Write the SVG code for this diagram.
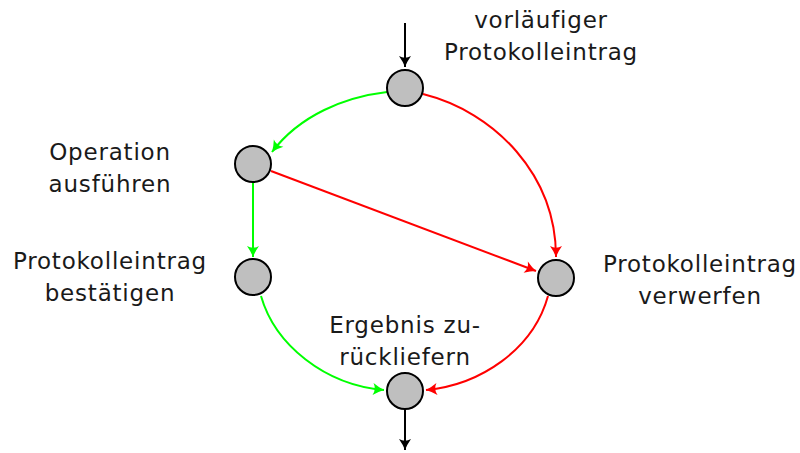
<svg xmlns="http://www.w3.org/2000/svg" width="800" height="453" viewBox="0 0 800 453">
  <defs>
    <!-- curved stealth-style arrow tips, one per stroke colour -->
    <marker id="tipK" viewBox="-12 -7 14 14" refX="0" refY="0" markerWidth="14" markerHeight="14" markerUnits="userSpaceOnUse" orient="auto">
      <path d="M-11,-6 Q-5,-1.8 0,0 Q-5,1.8 -11,6 Q-7.5,0 -11,-6 Z" fill="#000"/>
    </marker>
    <marker id="tipG" viewBox="-12 -7 14 14" refX="0" refY="0" markerWidth="14" markerHeight="14" markerUnits="userSpaceOnUse" orient="auto">
      <path d="M-11,-6 Q-5,-1.8 0,0 Q-5,1.8 -11,6 Q-7.5,0 -11,-6 Z" fill="#00ff00"/>
    </marker>
    <marker id="tipR" viewBox="-12 -7 14 14" refX="0" refY="0" markerWidth="14" markerHeight="14" markerUnits="userSpaceOnUse" orient="auto">
      <path d="M-11,-6 Q-5,-1.8 0,0 Q-5,1.8 -11,6 Q-7.5,0 -11,-6 Z" fill="#ff0000"/>
    </marker>
  </defs>
  <style>
    .state { fill: #bfbfbf; stroke: #000; stroke-width: 2; }
    .lbl { font-family: "DejaVu Sans", sans-serif; font-size: 23px; letter-spacing: 0.8px; fill: #1a1a1a; text-anchor: middle; }
    .edge { fill: none; stroke-width: 2; }
    .k { stroke: #000; marker-end: url(#tipK); }
    .g { stroke: #00ff00; marker-end: url(#tipG); }
    .r { stroke: #ff0000; marker-end: url(#tipR); }
  </style>

  <g id="connectors">
    <path class="edge k" d="M405,23 L405,67"/>
    <path class="edge g" d="M387,92 C345,97 300,115 272,152"/>
    <path class="edge r" d="M423,94 C495,112 556,175 556,257"/>
    <path class="edge r" d="M271,171 L536,271"/>
    <path class="edge g" d="M253,183 L253,257"/>
    <path class="edge g" d="M261,296 C275,345 325,385 384,390"/>
    <path class="edge r" d="M548,296 C533,350 480,385 426,390"/>
    <path class="edge k" d="M405,410 L405,450"/>
  </g>

  <g id="n-eintrag">
    <circle class="state" cx="405" cy="88" r="18"/>
    <text class="lbl" x="541" y="28">vorläufiger</text>
    <text class="lbl" x="541" y="60">Protokolleintrag</text>
  </g>
  <g id="n-operation">
    <circle class="state" cx="253" cy="164" r="18"/>
    <text class="lbl" x="110" y="160">Operation</text>
    <text class="lbl" x="110" y="192">ausführen</text>
  </g>
  <g id="n-bestaetigen">
    <circle class="state" cx="253" cy="277" r="18"/>
    <text class="lbl" x="110" y="269">Protokolleintrag</text>
    <text class="lbl" x="110" y="301">bestätigen</text>
  </g>
  <g id="n-verwerfen">
    <circle class="state" cx="556" cy="278" r="18"/>
    <text class="lbl" x="700" y="272">Protokolleintrag</text>
    <text class="lbl" x="700" y="304">verwerfen</text>
  </g>
  <g id="n-ergebnis">
    <circle class="state" cx="405" cy="391" r="18"/>
    <text class="lbl" x="405" y="333">Ergebnis zu-</text>
    <text class="lbl" x="405" y="365">rückliefern</text>
  </g>
</svg>
